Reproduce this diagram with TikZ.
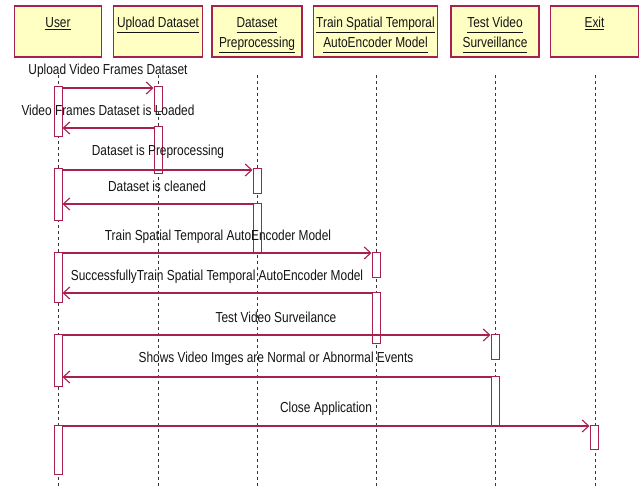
\documentclass[tikz,border=0pt]{standalone}
\usepackage{fontspec}
\setmainfont{Liberation Sans}[FakeStretch=0.82]
\usetikzlibrary{arrows.meta}
\definecolor{umlred}{RGB}{168,32,78}
\definecolor{umlfill}{RGB}{255,255,196}
\definecolor{lifegray}{RGB}{55,55,55}
\definecolor{txt}{RGB}{20,20,20}
\begin{document}
\begin{tikzpicture}[x=1pt,y=-1pt,
  hdr/.style={draw=umlred, fill=umlfill, line width=1.3pt, minimum height=51pt, inner sep=0pt},
  hdrtxt/.style={anchor=base, inner sep=0pt, font=\fontsize{14.5}{16}\selectfont, text=txt},
  life/.style={draw=lifegray, dash pattern=on 3pt off 3pt, line width=0.8pt},
  act/.style={draw=umlred, fill=white, line width=1pt, minimum width=8pt, inner sep=0pt},
  msg/.style={draw=umlred, line width=1.1pt, -{Straight Barb[length=6.5pt,width=12pt]}},
  lbl/.style={anchor=base, inner sep=0pt, font=\fontsize{14.5}{16}\selectfont, text=txt}]
\useasboundingbox[fill=white] (0,0) rectangle (641,489);

% header boxes
\node[hdr, minimum width=87pt]  (huser)  at (58,31.5)  {};
\node[hdr, minimum width=89pt]  (hup)    at (158,31.5) {};
\node[hdr, minimum width=90pt]  (hprep)  at (257,31.5) {};
\node[hdr, minimum width=124pt] (htrain) at (375.5,31.5) {};
\node[hdr, minimum width=88pt]  (htest)  at (495,31.5) {};
\node[hdr, minimum width=88pt]  (hexit)  at (594.5,31.5) {};

\node[hdrtxt] (tuser)   at (58,27.5)    {\underline{User}};
\node[hdrtxt] (tup)     at (158,27.5)   {\underline{Upload Dataset}};
\node[hdrtxt] (tprep1)  at (257,27.5)   {\underline{Dataset\vphantom{g}}};
\node[hdrtxt] (tprep2)  at (257,47.5)   {\underline{Preprocessing}};
\node[hdrtxt] (ttrain1) at (375.5,27.5) {\underline{Train Spatial Temporal}};
\node[hdrtxt] (ttrain2) at (375.5,47.5) {\underline{AutoEncoder Model\vphantom{g}}};
\node[hdrtxt] (ttest1)  at (495,27.5)   {\underline{Test Video\vphantom{g}}};
\node[hdrtxt] (ttest2)  at (495,47.5)   {\underline{Surveillance\vphantom{g}}};
\node[hdrtxt] (texit)   at (594.5,27.5) {\underline{Exit}};

% lifelines
\draw[life] (58,75)  -- (58,489);
\draw[life] (158,75) -- (158,489);
\draw[life] (257,75) -- (257,489);
\draw[life] (376,75) -- (376,489);
\draw[life] (495,75) -- (495,489);
\draw[life] (595,75) -- (595,489);

% activations
\node[act, minimum height=50pt] (a1) at (58,112)   {};
\node[act, minimum height=52pt] (a2) at (58,195)   {};
\node[act, minimum height=50pt] (a3) at (58,278)   {};
\node[act, minimum height=52pt] (a4) at (58,361)   {};
\node[act, minimum height=49pt] (a5) at (58,450.5) {};
\node[act, minimum height=25pt] (u1) at (158,99.5)  {};
\node[act, minimum height=47pt] (u2) at (158,150.5) {};
\node[act, minimum height=25pt] (p1) at (257,181.5) {};
\node[act, minimum height=50pt] (p2) at (257,229)   {};
\node[act, minimum height=25pt] (t1) at (376,265.5) {};
\node[act, minimum height=51pt] (t2) at (376,318.5) {};
\node[act, minimum height=25pt] (s1) at (495,347.5) {};
\node[act, minimum height=50pt] (s2) at (495,402)   {};
\node[act, minimum height=24pt] (e1) at (594,438)   {};

% messages
\draw[msg] (a1.east |- 0,88)  -- (u1.west |- 0,88);
\draw[msg] (u2.west |- 0,128) -- (a1.east |- 0,128);
\draw[msg] (a2.east |- 0,170) -- (p1.west |- 0,170);
\draw[msg] (p2.west |- 0,204) -- (a2.east |- 0,204);
\draw[msg] (a3.east |- 0,253) -- (t1.west |- 0,253);
\draw[msg] (t2.west |- 0,293) -- (a3.east |- 0,293);
\draw[msg] (a4.east |- 0,335) -- (s1.west |- 0,335);
\draw[msg] (s2.west |- 0,377) -- (a4.east |- 0,377);
\draw[msg] (a5.east |- 0,426) -- (e1.west |- 0,426);

% labels
\node[lbl] (m1) at (108,75)  {Upload Video Frames Dataset};
\node[lbl] (m2) at (108,116) {Video Frames Dataset is Loaded};
\node[lbl] (m3) at (158,156) {Dataset is Preprocessing};
\node[lbl] (m4) at (157,192) {Dataset is cleaned};
\node[lbl] (m5) at (218,241) {Train Spatial Temporal AutoEncoder Model};
\node[lbl] (m6) at (217,281) {SuccessfullyTrain Spatial Temporal AutoEncoder Model};
\node[lbl] (m7) at (276,323) {Test Video Surveilance};
\node[lbl] (m8) at (276,363) {Shows Video Imges are Normal or Abnormal Events};
\node[lbl] (m9) at (326,413) {Close Application};
\end{tikzpicture}
\end{document}
